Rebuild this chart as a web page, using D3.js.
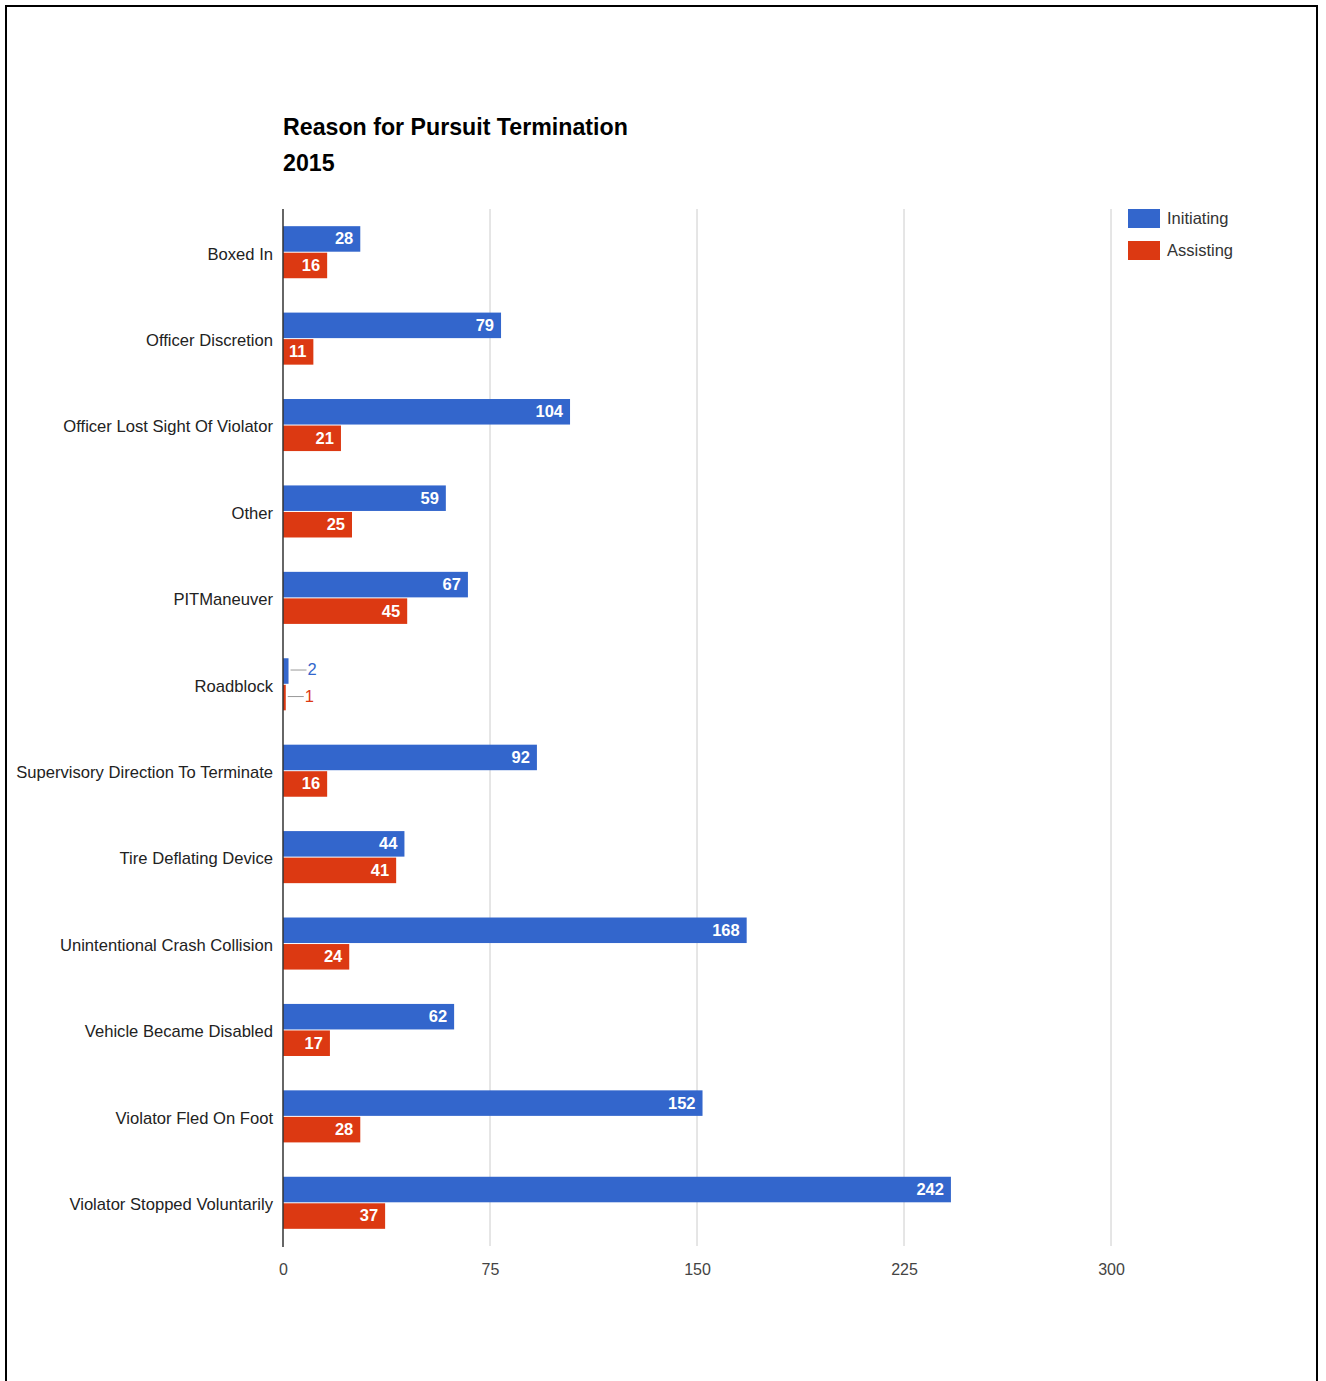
<!DOCTYPE html>
<html><head><meta charset="utf-8">
<script src="https://cdn.jsdelivr.net/npm/d3@7"></script>
<style>body{margin:0;background:#fff}svg{display:block}</style>
</head><body>
<script>
const categories = ["Boxed In","Officer Discretion","Officer Lost Sight Of Violator","Other","PITManeuver","Roadblock","Supervisory Direction To Terminate","Tire Deflating Device","Unintentional Crash Collision","Vehicle Became Disabled","Violator Fled On Foot","Violator Stopped Voluntarily"];
const initiating = [28,79,104,59,67,2,92,44,168,62,152,242];
const assisting = [16,11,21,25,45,1,16,41,24,17,28,37];
const seriesNames = ["Initiating","Assisting"];
const seriesColors = ["#3366cc","#dc3912"];
const ticks = [0,75,150,225,300];

const W=1326,H=1381;
const FF="Liberation Sans, Arial, sans-serif";
const svg=d3.select("body").append("svg").attr("width",W).attr("height",H);
svg.append("rect").attr("width",W).attr("height",H).attr("fill","#fff");
// frame
svg.append("path").attr("d","M6,1381V6H1317V1381").attr("fill","none").attr("stroke","#000").attr("stroke-width",2);

const x=d3.scaleLinear().domain([0,300]).range([283,1111]);
const y=d3.scaleBand().domain(categories).range([209,1246]).paddingInner(0.386).paddingOuter(0.193);
const y1=d3.scaleBand().domain(seriesNames).range([0,y.bandwidth()]);

// gridlines
svg.append("g").selectAll("line").data(ticks.slice(1)).join("line")
 .attr("x1",d=>x(d)).attr("x2",d=>x(d)).attr("y1",209).attr("y2",1246)
 .attr("stroke","#cccccc").attr("stroke-width",1);

// x axis labels via d3 axis
const xa=svg.append("g").attr("transform","translate(0,1248)")
 .call(d3.axisBottom(x).tickValues(ticks).tickSize(0).tickPadding(16));
xa.select(".domain").remove();
xa.selectAll("text").attr("font-family",FF).attr("font-size",16).attr("fill","#444");

const data=categories.map((c,i)=>({c,vals:[initiating[i],assisting[i]]}));
const groups=svg.append("g").selectAll("g").data(data).join("g")
 .attr("transform",d=>`translate(0,${y(d.c)})`);
groups.selectAll("rect").data(d=>d.vals.map((v,j)=>({v,s:seriesNames[j],col:seriesColors[j]}))).join("rect")
 .attr("x",x(0)).attr("y",d=>y1(d.s)+0.5).attr("width",d=>x(d.v)-x(0)).attr("height",y1.bandwidth()-1)
 .attr("fill",d=>d.col);
groups.selectAll("text.v").data(d=>d.vals.map((v,j)=>({v,s:seriesNames[j],col:seriesColors[j]}))).join("text")
 .attr("class","v")
 .each(function(d){
   const t=d3.select(this);
   const w=x(d.v)-x(0);
   const cy=y1(d.s)+y1.bandwidth()/2;
   if(w>25){
     t.attr("x",x(d.v)-7).attr("y",cy).attr("text-anchor","end").attr("fill","#fff").attr("font-weight","bold");
   } else {
     t.attr("x",x(d.v)+19).attr("y",cy-1).attr("text-anchor","start").attr("fill",d.col);
     d3.select(this.parentNode).append("line").attr("x1",x(d.v)+2).attr("x2",x(d.v)+18)
       .attr("y1",cy-1).attr("y2",cy-1).attr("stroke","#999").attr("stroke-width",1);
   }
 })
 .attr("dy","0.33em").attr("font-family",FF).attr("font-size",16.5)
 .text(d=>d.v);

// y axis labels
const ya=svg.append("g").attr("transform","translate(283,2)").call(d3.axisLeft(y).tickSize(0).tickPadding(10));
ya.select(".domain").remove();
ya.selectAll("text").attr("font-family",FF).attr("font-size",16.6).attr("fill","#222");

// zero baseline
svg.append("line").attr("x1",283).attr("x2",283).attr("y1",209).attr("y2",1247).attr("stroke","#333").attr("stroke-width",1.5);

// title
const title=svg.append("g").attr("font-family",FF).attr("font-weight","bold").attr("font-size",23.2).attr("fill","#000");
title.append("text").attr("x",283).attr("y",135).text("Reason for Pursuit Termination");
title.append("text").attr("x",283).attr("y",171).text("2015");

// legend
const lg=svg.append("g").selectAll("g").data(seriesNames).join("g").attr("transform",(d,i)=>`translate(1128,${209+i*32})`);
lg.append("rect").attr("width",32).attr("height",19).attr("fill",(d,i)=>seriesColors[i]);
lg.append("text").attr("x",39).attr("y",10).attr("dy","0.3em").attr("font-family",FF).attr("font-size",16.5).attr("fill","#333").text(d=>d);
</script>
</body></html>
